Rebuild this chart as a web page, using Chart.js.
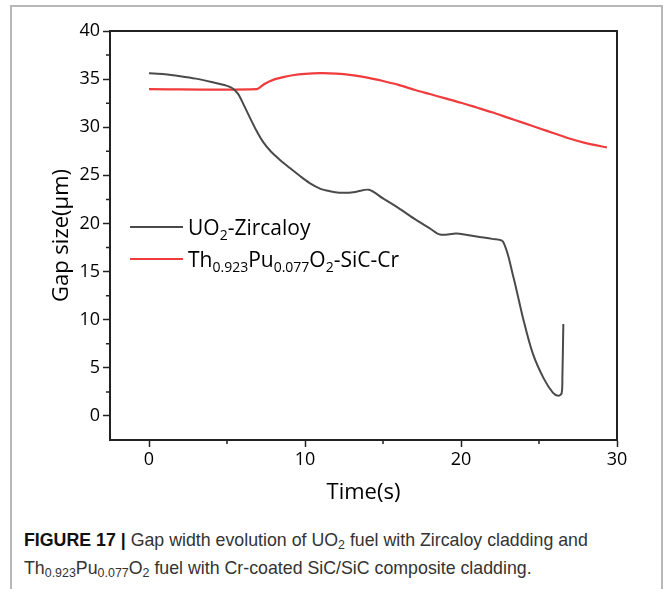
<!DOCTYPE html>
<html>
<head>
<meta charset="utf-8">
<script src="https://cdn.jsdelivr.net/npm/chart.js@4.4.1/dist/chart.umd.min.js"></script>
<style>
  html, body { margin: 0; padding: 0; background: #fff; }
  body { width: 663px; height: 589px; position: relative; overflow: hidden; }
  .frame { position: absolute; left: 10px; top: 5px; width: 649px; height: 620px;
           border: 2px solid #b8b8b8; border-bottom: none; }
  .plot { position: absolute; left: 0; top: 0; width: 663px; height: 520px; }
  .caption { position: absolute; left: 24px; top: 526px; color: #333;
             font-family: 'Liberation Sans', sans-serif;
             font-size: 19px; line-height: 28px; white-space: nowrap;
             transform: scaleX(0.935); transform-origin: 0 0; }
  .caption b { color: #111; }
  .caption sub { font-size: 0.7em; vertical-align: -0.25em; line-height: 0; }
</style>
</head>
<body>
<div class="frame"></div>
<div class="plot"><canvas id="gapChart"></canvas></div>
<div class="caption"><b>FIGURE 17 |</b> Gap width evolution of UO<sub>2</sub> fuel with Zircaloy cladding and<br>Th<sub>0.923</sub>Pu<sub>0.077</sub>O<sub>2</sub> fuel with Cr-coated SiC/SiC composite cladding.</div>
<script>
// --- DATA ---
const timeUO2 = [0, 1, 2, 3, 4, 5, 5.3, 5.7, 6.05, 6.5, 6.9, 7.3, 7.8, 8.4, 9.0, 9.7, 10.3, 11.0, 11.6, 12.2, 12.8, 13.3, 14.1,
                 15.0, 16.0, 17.0, 18.0, 18.65, 19.7, 20.4, 21.2, 22.0, 22.7, 23.35, 24.0, 24.6, 25.3, 25.9, 26.24, 26.45, 26.5, 26.56];
const gapUO2  = [35.6, 35.5, 35.3, 35.05, 34.7, 34.3, 34.1, 33.5, 32.4, 30.9, 29.6, 28.5, 27.5, 26.6, 25.8, 24.9, 24.2, 23.6, 23.35, 23.2, 23.2, 23.3, 23.5,
                 22.6, 21.6, 20.5, 19.5, 18.85, 18.95, 18.8, 18.6, 18.4, 18.1, 14.5, 10.0, 6.5, 3.9, 2.4, 2.1, 2.35, 4.1, 9.55];

const timeThPu = [0, 6.9, 7.4, 8.0, 8.6, 9.2, 10.0, 11.0, 12.0, 13.0, 14.0, 15.0, 16.0, 17.0, 18.0, 19.0, 20.0, 21.0, 22.0, 23.0, 24.0, 25.0, 26.0, 27.0, 28.0, 29.35];
const gapThPu  = [33.96, 33.96, 34.5, 34.95, 35.2, 35.4, 35.55, 35.62, 35.58, 35.42, 35.15, 34.8, 34.4, 33.9, 33.45, 33.0, 32.55, 32.05, 31.55, 31.0, 30.45, 29.9, 29.35, 28.8, 28.35, 27.9];

const seriesNames = ['UO_{2}-Zircaloy', 'Th_{0.923}Pu_{0.077}O_{2}-SiC-Cr'];
const seriesColors = ['#4a4a4a', '#f03c3c'];
const xTicks = [0, 10, 20, 30];
const yTicks = [0, 5, 10, 15, 20, 25, 30, 35, 40];

const FONT = "'Open Sans', 'Noto Sans', sans-serif";

function toPoints(xs, ys) {
    return xs.map((x, i) => ({x: x, y: ys[i]}));
}

// split "UO_{2}" style markup into plain / subscript parts
function parseSub(str) {
    const parts = [];
    const re = /_\{([^}]*)\}/g;
    let last = 0, m;
    while ((m = re.exec(str)) !== null) {
        if (m.index > last) parts.push({t: str.slice(last, m.index), sub: false});
        parts.push({t: m[1], sub: true});
        last = re.lastIndex;
    }
    if (last < str.length) parts.push({t: str.slice(last), sub: false});
    return parts;
}

// box frame, minor ticks and the in-plot legend
const extrasPlugin = {
    id: 'extras',
    afterDraw(chart) {
        const ctx = chart.ctx;
        const area = chart.chartArea;
        const xs = chart.scales.x, ys = chart.scales.y;
        ctx.save();

        // top + right sides of the box
        ctx.strokeStyle = '#222';
        ctx.lineWidth = 2;
        ctx.beginPath();
        ctx.moveTo(area.left, area.top);
        ctx.lineTo(area.right, area.top);
        ctx.lineTo(area.right, area.bottom);
        ctx.stroke();

        // minor ticks halfway between major ones
        ctx.lineWidth = 1.5;
        ctx.beginPath();
        for (let i = 0; i < yTicks.length - 1; i++) {
            const py = ys.getPixelForValue((yTicks[i] + yTicks[i + 1]) / 2);
            ctx.moveTo(area.left, py);
            ctx.lineTo(area.left - 4, py);
        }
        for (let i = 0; i < xTicks.length - 1; i++) {
            const px = xs.getPixelForValue((xTicks[i] + xTicks[i + 1]) / 2);
            ctx.moveTo(px, area.bottom);
            ctx.lineTo(px, area.bottom + 4);
        }
        ctx.stroke();

        // legend
        const lx = area.left + 20, ly0 = area.top + 196, gap = 32;
        chart.data.datasets.forEach((ds, i) => {
            const y = ly0 + i * gap;
            ctx.strokeStyle = ds.borderColor;
            ctx.lineWidth = 2;
            ctx.beginPath();
            ctx.moveTo(lx, y);
            ctx.lineTo(lx + 53, y);
            ctx.stroke();

            let tx = lx + 58;
            ctx.fillStyle = '#000';
            ctx.textBaseline = 'alphabetic';
            parseSub(seriesNames[i]).forEach(p => {
                ctx.font = (p.sub ? '500 14px ' : '500 21px ') + FONT;
                ctx.fillText(p.t, tx, y + 8 + (p.sub ? 5 : 0));
                tx += ctx.measureText(p.t).width;
            });
        });
        ctx.restore();
    }
};

const ctx = document.getElementById('gapChart').getContext('2d');
const gapChart = new Chart(ctx, {
    type: 'line',
    data: {
        datasets: [{
            label: 'UO2-Zircaloy',
            data: toPoints(timeUO2, gapUO2),
            borderColor: seriesColors[0],
            borderWidth: 2,
            pointRadius: 0,
            tension: 0.3,
            fill: false
        }, {
            label: 'Th0.923Pu0.077O2-SiC-Cr',
            data: toPoints(timeThPu, gapThPu),
            borderColor: seriesColors[1],
            borderWidth: 2.2,
            pointRadius: 0,
            tension: 0.25,
            fill: false
        }]
    },
    options: {
        responsive: true,
        maintainAspectRatio: false,
        animation: false,
        layout: { padding: { left: 0, right: 46, top: 31, bottom: 0 } },
        plugins: { legend: { display: false }, tooltip: { enabled: false } },
        scales: {
            x: {
                type: 'linear',
                min: -2.5,
                max: 30,
                afterBuildTicks: s => { s.ticks = xTicks.map(v => ({value: v})); },
                afterFit: s => { s.height = 80; },
                grid: { drawOnChartArea: false, drawTicks: true, tickLength: 7, tickWidth: 1.5, tickColor: '#222' },
                border: { display: true, color: '#222', width: 2 },
                ticks: { color: '#000', padding: 2, maxRotation: 0, font: { family: FONT, size: 18, weight: '500' } },
                title: { display: true, text: 'Time(s)', color: '#000', padding: { top: 0, bottom: 14 },
                         font: { family: FONT, size: 22, weight: '500' } }
            },
            y: {
                type: 'linear',
                min: -2.5,
                max: 40,
                afterBuildTicks: s => { s.ticks = yTicks.map(v => ({value: v})); },
                afterFit: s => { s.width = 110; },
                grid: { drawOnChartArea: false, drawTicks: true, tickLength: 7, tickWidth: 1.5, tickColor: '#222' },
                border: { display: true, color: '#222', width: 2 },
                ticks: { color: '#000', padding: 3, font: { family: FONT, size: 18, weight: '500' } },
                title: { display: true, text: 'Gap size(μm)', color: '#000', padding: { top: 49, bottom: 0 },
                         font: { family: FONT, size: 22, weight: '500' } }
            }
        }
    },
    plugins: [extrasPlugin]
});
</script>
</body>
</html>
